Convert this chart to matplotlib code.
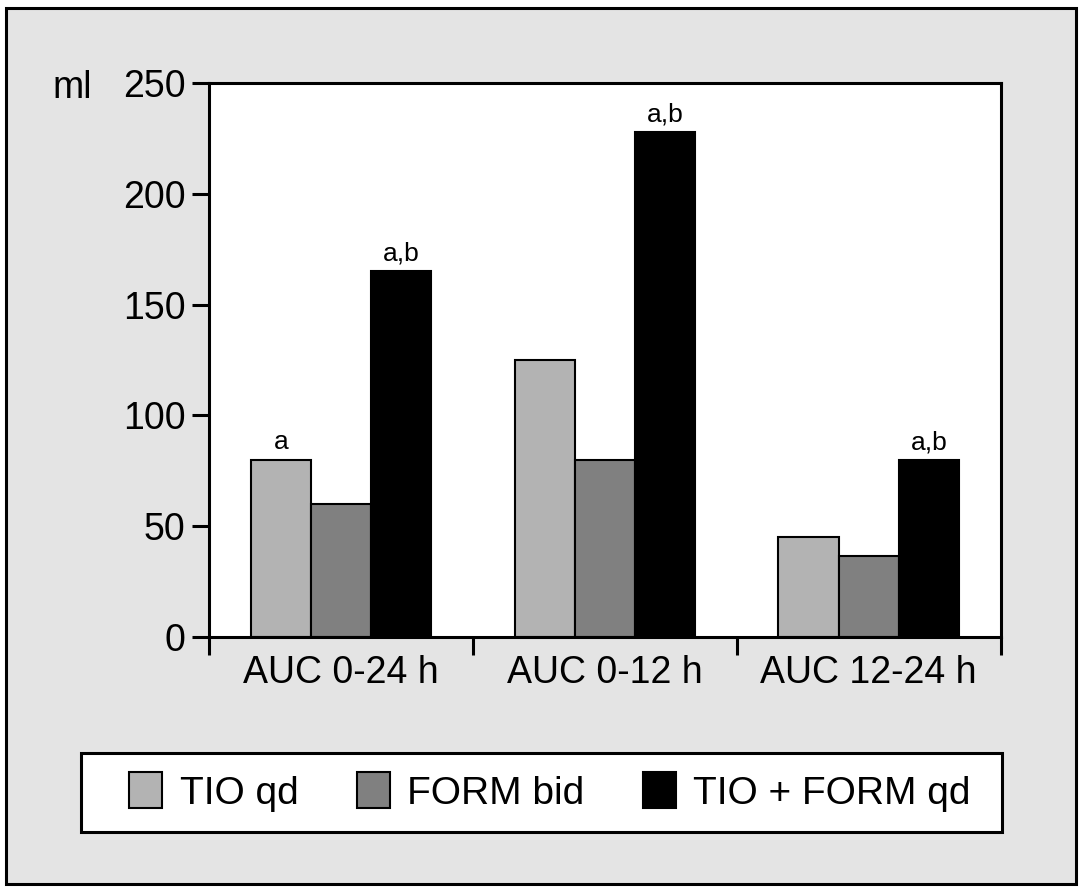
import numpy as np
import matplotlib.pyplot as plt
from matplotlib.patches import Rectangle, Patch

plt.rcParams['font.family'] = ['Liberation Sans', 'DejaVu Sans']

groups = ['AUC 0-24 h', 'AUC 0-12 h', 'AUC 12-24 h']
series = ['TIO qd', 'FORM bid', 'TIO + FORM qd']
tio = [80, 125, 45]
form = [60, 80, 36.5]
combo = [165, 228, 80]
# significance letters per group, per series
marks = [['a', '', 'a,b'], ['', '', 'a,b'], ['', '', 'a,b']]
colors = ['#b3b3b3', '#808080', '#000000']

fig = plt.figure(figsize=(10.83, 8.91), dpi=100)
fig.patch.set_facecolor('white')
# grey panel with black frame
fig.patches.append(Rectangle((6 / 1083, 1 - 884 / 891), 1070 / 1083, 876 / 891,
                             transform=fig.transFigure, facecolor='#e4e4e4',
                             edgecolor='black', linewidth=2.2, zorder=-10))

ax = fig.add_axes([0.193, 0.2851, 0.731, 0.6218])
ax.set_facecolor('white')

x = np.arange(len(groups)) + 0.5
w = 0.228
values = [tio, form, combo]
for k, vals in enumerate(values):
    pos = x + (k - 1) * w
    ax.bar(pos, vals, width=w, color=colors[k], edgecolor='black', linewidth=1.5, zorder=2)
    for i, v in enumerate(vals):
        lab = marks[i][k]
        if lab:
            ax.annotate(lab, (pos[i], v), xytext=(0, 4), textcoords='offset points',
                        ha='center', va='bottom', fontsize=19)

ax.set_xlim(0, 3)
ax.set_ylim(0, 250)
ax.set_yticks(np.arange(0, 251, 50))
ax.set_xticks([0, 1, 2, 3])
ax.set_xticklabels([])
ax.set_xticks(x, minor=True)
ax.set_xticklabels(groups, minor=True, fontsize=27)
ax.tick_params(axis='x', which='major', direction='out', length=13, width=2.2)
ax.tick_params(axis='x', which='minor', length=0, pad=13)
ax.tick_params(axis='y', direction='out', length=12, width=2.2, labelsize=27, pad=5)
for s in ax.spines.values():
    s.set_linewidth(2.2)

fig.text(52 / 1083, 1 - 88 / 891, 'ml', fontsize=27, ha='left', va='center')

# legend box
fig.patches.append(Rectangle((81 / 1083, 1 - 832 / 891), 921 / 1083, 79 / 891,
                             transform=fig.transFigure, facecolor='white',
                             edgecolor='black', linewidth=2.2, zorder=1))
handles = [Patch(facecolor=c, edgecolor='black', linewidth=1.5) for c in colors]
leg = fig.legend(handles, series, loc='center', bbox_to_anchor=(550 / 1083, 1 - 792 / 891),
                 ncol=3, frameon=False, fontsize=28, handlelength=0.85, handleheight=1.05,
                 handletextpad=0.45, columnspacing=1.5)
leg.set_zorder(5)

fig.savefig('out.png', dpi=100)
